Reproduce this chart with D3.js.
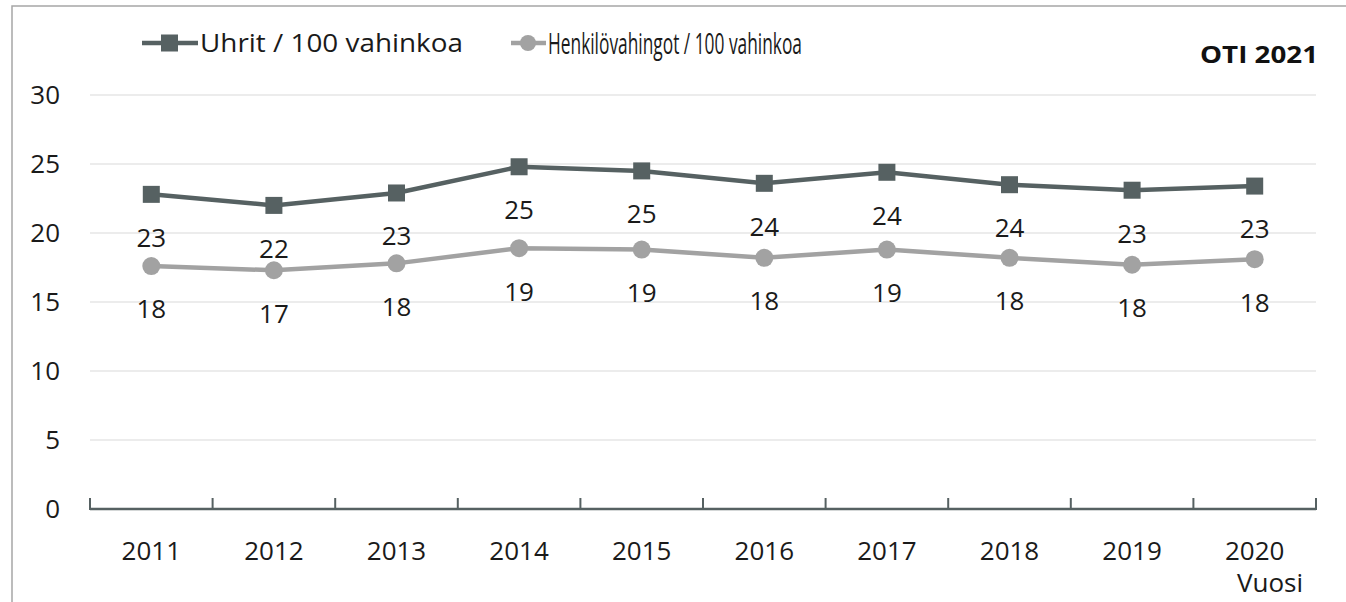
<!DOCTYPE html>
<html><head><meta charset="utf-8">
<script src="https://cdn.jsdelivr.net/npm/d3@7"></script>
<style>
html,body{margin:0;padding:0;background:#fff;}
svg{display:block;font-family:"Open Sans","Noto Sans",sans-serif;}
</style></head>
<body>
<svg id="c" width="1346" height="602"></svg>
<script>
const years = ["2011","2012","2013","2014","2015","2016","2017","2018","2019","2020"];
const uhrit = [22.8, 22.0, 22.9, 24.8, 24.5, 23.6, 24.4, 23.5, 23.1, 23.4];
const henkilo = [17.6, 17.3, 17.8, 18.9, 18.8, 18.2, 18.8, 18.2, 17.7, 18.1];
const yTicks = [0, 5, 10, 15, 20, 25, 30];
const seriesNames = ["Uhrit / 100 vahinkoa", "Henkilövahingot / 100 vahinkoa"];
const source = "OTI 2021";
const xTitle = "Vuosi";

const dark = "#566162", light = "#a2a2a2", grid = "#d9d9d9", txt = "#1a1a1a";
const FS = 26;
const svg = d3.select("#c");

// frame
svg.append("rect").attr("x",12).attr("y",6).attr("width",1400).attr("height",700)
  .attr("fill","none").attr("stroke","#a6a6a6").attr("stroke-width",1.5);

const x0 = 90, x1 = 1316, yBase = 509, yTop = 95;
const x = d3.scaleBand().domain(years).range([x0, x1]).paddingInner(0).paddingOuter(0);
const y = d3.scaleLinear().domain([0, 30]).range([yBase, yTop]);
const cx = d => x(d) + x.bandwidth()/2;

// grid
svg.append("g").selectAll("line").data(yTicks.filter(t=>t>0)).join("line")
  .attr("x1",x0).attr("x2",x1).attr("y1",d=>y(d)).attr("y2",d=>y(d))
  .attr("stroke",grid).attr("stroke-width",1.2);

// y labels
svg.append("g").selectAll("text").data(yTicks).join("text")
  .attr("x",60).attr("y",d=>y(d)).attr("dy","0.36em").attr("text-anchor","end")
  .attr("font-size",FS).attr("fill",txt).text(d=>d);

// x axis
const bounds = years.map(d=>x(d)).concat([x1]);
svg.append("line").attr("x1",x0).attr("x2",x1).attr("y1",yBase).attr("y2",yBase)
  .attr("stroke",dark).attr("stroke-width",2.5);
svg.append("g").selectAll("line").data(bounds).join("line")
  .attr("x1",d=>d).attr("x2",d=>d).attr("y1",yBase+1).attr("y2",yBase-11)
  .attr("stroke",dark).attr("stroke-width",2);
svg.append("g").selectAll("text").data(years).join("text")
  .attr("x",d=>cx(d)).attr("y",551).attr("dy","0.36em").attr("text-anchor","middle")
  .attr("font-size",FS).attr("fill",txt).text(d=>d);
svg.append("text").attr("x",1270).attr("y",583).attr("dy","0.36em").attr("text-anchor","middle")
  .attr("font-size",FS).attr("fill",txt).text(xTitle);

// lines
const line = d3.line().x((d,i)=>cx(years[i])).y(d=>y(d));
svg.append("path").datum(henkilo).attr("d",line).attr("fill","none").attr("stroke",light).attr("stroke-width",4.5);
svg.append("path").datum(uhrit).attr("d",line).attr("fill","none").attr("stroke",dark).attr("stroke-width",4.5);

svg.append("g").selectAll("circle").data(henkilo).join("circle")
  .attr("cx",(d,i)=>cx(years[i])).attr("cy",d=>y(d)).attr("r",9).attr("fill",light);
svg.append("g").selectAll("rect").data(uhrit).join("rect")
  .attr("x",(d,i)=>cx(years[i])-8.5).attr("y",d=>y(d)-8.5).attr("width",17).attr("height",17).attr("fill",dark);

// data labels
const fmt = d3.format(".0f");
svg.append("g").selectAll("text").data(uhrit).join("text")
  .attr("x",(d,i)=>cx(years[i])).attr("y",d=>y(d)+43).attr("dy","0.36em").attr("text-anchor","middle")
  .attr("font-size",FS).attr("fill",txt).text(d=>fmt(d));
svg.append("g").selectAll("text").data(henkilo).join("text")
  .attr("x",(d,i)=>cx(years[i])).attr("y",d=>y(d)+43).attr("dy","0.36em").attr("text-anchor","middle")
  .attr("font-size",FS).attr("fill",txt).text(d=>fmt(d));

// legend
const lg = svg.append("g");
lg.append("line").attr("x1",142).attr("x2",198).attr("y1",43).attr("y2",43).attr("stroke",dark).attr("stroke-width",4.5);
lg.append("rect").attr("x",161).attr("y",34.5).attr("width",17).attr("height",17).attr("fill",dark);
lg.append("text").attr("x",200).attr("y",43).attr("dy","0.36em").attr("font-size",FS).attr("fill",txt)
  .attr("textLength",263).attr("lengthAdjust","spacingAndGlyphs").text(seriesNames[0]);
lg.append("line").attr("x1",511).attr("x2",546).attr("y1",43).attr("y2",43).attr("stroke",light).attr("stroke-width",4.5);
lg.append("circle").attr("cx",528).attr("cy",43).attr("r",8).attr("fill",light);
lg.append("text").attr("x",548).attr("y",43).attr("dy","0.36em").attr("font-size",30).attr("fill",txt)
  .attr("textLength",254).attr("lengthAdjust","spacingAndGlyphs").text(seriesNames[1]);

svg.append("text").attr("x",1318).attr("y",54).attr("dy","0.36em").attr("text-anchor","end")
  .attr("font-size",24).attr("font-weight","bold").attr("fill","#111")
  .attr("textLength",118).attr("lengthAdjust","spacingAndGlyphs").text(source);
</script>
</body></html>
